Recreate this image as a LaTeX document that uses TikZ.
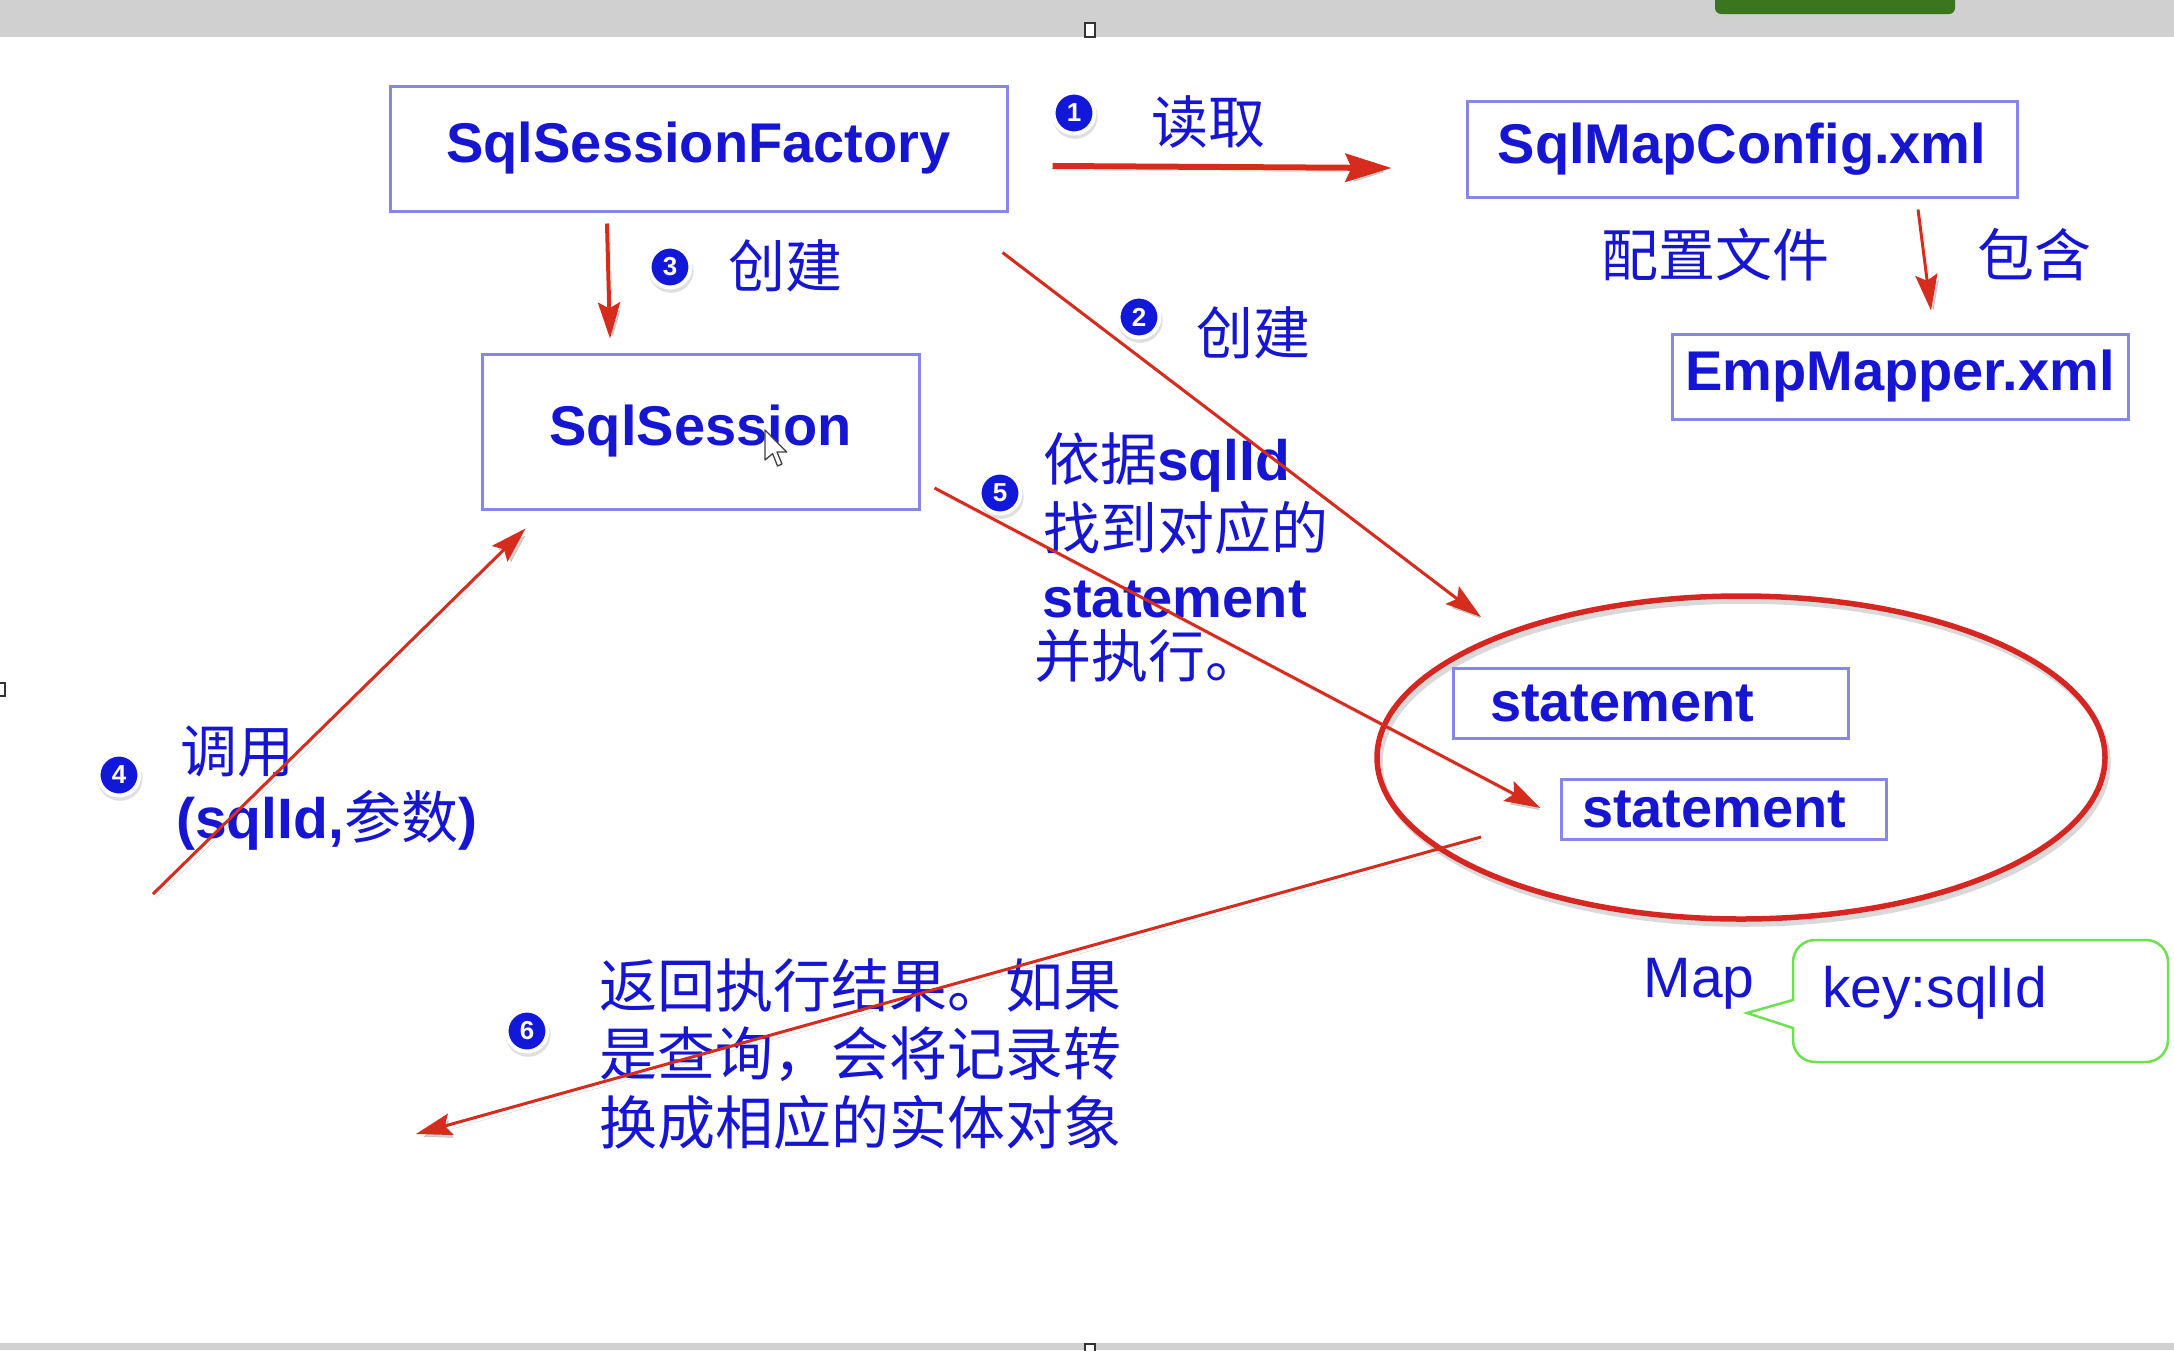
\documentclass[tikz,border=0pt]{standalone}
\usepackage{fontspec}
\setmainfont{Liberation Sans}
\newfontfamily\cjk{Noto Sans CJK SC}
\usetikzlibrary{arrows.meta,shapes.geometric,shadows}
\definecolor{txtblue}{RGB}{22,22,210}
\definecolor{boxc}{RGB}{135,135,232}
\definecolor{arrred}{RGB}{214,44,30}
\definecolor{elred}{RGB}{214,38,34}
\definecolor{badgeblue}{RGB}{18,24,215}
\definecolor{calgreen}{RGB}{110,225,80}
\definecolor{barg}{RGB}{208,208,208}
\definecolor{btngreen}{RGB}{58,118,30}
\newcommand\latb{\fontsize{56}{62}\selectfont\bfseries}
\newcommand\latr{\fontsize{57}{62}\selectfont}
\newcommand\cjkt{\fontsize{57}{62}\selectfont\cjk}
\newcommand\cjkbig{\fontsize{58}{62}\selectfont\cjk}
\begin{document}
\begin{tikzpicture}[x=1pt,y=-1pt,
  box/.style={draw=boxc, line width=3pt, inner sep=0pt, text=txtblue, font=\latb},
  lbl/.style={inner sep=0pt, text=txtblue, font=\cjkt},
  badge/.style={circle, fill=badgeblue, draw=white, line width=4pt, minimum size=41pt,
    inner sep=0pt, text=white, font=\fontsize{26}{26}\selectfont\bfseries,
    drop shadow={shadow xshift=1pt, shadow yshift=-3pt, shadow scale=1.1, opacity=0.25}},
  rarrow/.style={draw=arrred, line width=3.5pt, -{Stealth[length=36pt,width=22pt,inset=6pt]},
    preaction={draw=black, opacity=0.18, transform canvas={xshift=3pt,yshift=-4pt}}},
  handle/.style={fill=white, draw=black!80, line width=1.2pt},
]
\useasboundingbox (0,0) rectangle (2174,1350);
\fill[white] (0,0) rectangle (2174,1350);
% window chrome
\fill[barg] (0,0) rectangle (2174,37);
\fill[barg] (0,1343) rectangle (2174,1350);
\fill[btngreen, rounded corners=6pt] (1715,-10) rectangle (1955,14);
\draw[handle] (1085,23) rectangle (1095,37);
\draw[handle] (-2,683) rectangle (5,696);
\draw[handle] (1085,1344) rectangle (1095,1352);

% boxes
\node[box, minimum width=617pt, minimum height=125pt] (fac) at (698.5,148.5) {SqlSessionFactory};
\node[box, minimum width=550pt, minimum height=96pt] (cfg) at (1742,149) {SqlMapConfig.xml};
\node[box, minimum width=456pt, minimum height=85pt] (emp) at (1900,376.5) {EmpMapper.xml};
\node[box, minimum width=437pt, minimum height=155pt] (sess) at (700.5,431.5) {SqlSession};

% ellipse with statements
\node[ellipse, draw=elred, line width=5.5pt, minimum width=728pt, minimum height=323pt, inner sep=0pt,
  preaction={draw=black, opacity=0.15, transform canvas={xshift=3pt,yshift=-5pt}}] (ell) at (1741,757.5) {};
\node[box, text width=321pt, inner xsep=37pt, minimum height=70pt, align=left] (st1) at (1650.5,703) {statement};
\node[box, text width=283pt, inner xsep=21pt, minimum height=60pt, align=left] (st2) at (1723.5,809) {statement};

% Map callout
\node[inner sep=0pt, text=txtblue, font=\latr] (map) at (1699,984) {Map};
\draw[calgreen, line width=2.5pt, rounded corners=22pt]
  (1793,1000) -- (1793,940) -- (2168,940) -- (2168,1062) -- (1793,1062) [sharp corners] -- (1793,1028) -- (1747,1013) -- cycle;
\node[inner sep=0pt, text=txtblue, font=\latr, anchor=west] (key) at (1822,993) {key:sqlId};

% cursor
\draw[fill=white, draw=black!75, line width=1.3pt, line join=round]
  (765,430) -- (765,460) -- (772.6,453.6) -- (777.5,466) -- (782,464) -- (777,452) -- (786.7,452) -- cycle;

% labels
\node[lbl] (lread) at (1208,122) {读取};
\node[lbl] (lc3) at (785,266) {创建};
\node[lbl] (lc2) at (1253,333) {创建};
\node[lbl] (lcfg) at (1715,255) {配置文件};
\node[lbl] (linc) at (2034,255) {包含};
\node[lbl, anchor=west] (l5a) at (1043,462) {依据{\normalfont\bfseries sqlId}};
\node[lbl, anchor=west] (l5b) at (1043,528) {找到对应的};
\node[lbl, anchor=west, font=\latb] (l5c) at (1042,599) {statement};
\node[lbl, anchor=west] (l5d) at (1034,656) {并执行。};
\node[lbl, anchor=west] (l4a) at (180,752) {调用};
\node[lbl, anchor=west] (l4b) at (176,820) {{\normalfont\bfseries (sqlId,}参数{\normalfont\bfseries )}};
\node[lbl, anchor=west, font=\cjkbig] (l6a) at (599,986) {返回执行结果。如果};
\node[lbl, anchor=west, font=\cjkbig] (l6b) at (599,1054) {是查询，会将记录转};
\node[lbl, anchor=west, font=\cjkbig] (l6c) at (599,1122) {换成相应的实体对象};

% badges
\node[badge] (b1) at (1074,113) {1};
\node[badge] (b2) at (1139,317) {2};
\node[badge] (b3) at (670,267) {3};
\node[badge] (b4) at (119,775) {4};
\node[badge] (b5) at (1000,493) {5};
\node[badge] (b6) at (527,1031) {6};

% free ends
\coordinate (p4) at (153,894);
\coordinate (p6) at (416,1134);

% arrows
\draw[rarrow, line width=6pt, -{Stealth[length=46pt,width=28pt,inset=6pt]}]
  ([shift={(44,17.5)}]fac.east) -- ([shift={(-74,19)}]cfg.west);
\draw[rarrow, line width=4pt] ([shift={(-91.5,11)}]fac.south) -- ([shift={(-90.5,-14)}]sess.north);
\draw[rarrow, line width=3pt] ([shift={(-6,40)}]fac.south east) -- ([shift={(-260,-140.5)}]ell.center);
\draw[rarrow, line width=3pt] ([shift={(176,11)}]cfg.south) -- ([shift={(31,-22)}]emp.north);
\draw[rarrow, line width=3pt] (p4) -- ([shift={(45,18)}]sess.south west);
\draw[rarrow, line width=3pt] ([shift={(14,56.5)}]sess.east) -- ([shift={(-19,-1)}]st2.west);
\draw[rarrow, line width=3pt] ([shift={(-260,79.5)}]ell.center) -- (p6);
\end{tikzpicture}
\end{document}
